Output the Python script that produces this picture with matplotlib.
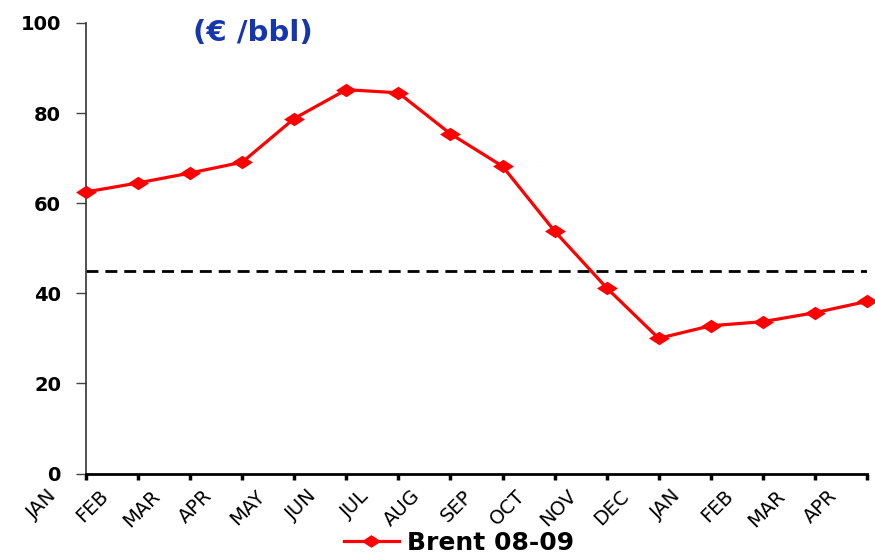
import matplotlib
matplotlib.use("Agg")
import matplotlib.pyplot as plt
import matplotlib.transforms as mtransforms
from matplotlib.lines import Line2D

months = ["JAN", "FEB", "MAR", "APR", "MAY", "JUN", "JUL", "AUG",
          "SEP", "OCT", "NOV", "DEC", "JAN", "FEB", "MAR", "APR"]
brent = [62.5, 64.5, 66.7, 69.1, 78.8, 85.2, 84.5, 75.4,
         68.2, 53.8, 41.2, 30.0, 32.8, 33.7, 35.7, 38.2]
reference_level = 45.0
yticks = [0, 20, 40, 60, 80, 100]
series_name = "Brent 08-09"
unit_title = "(€ /bbl)"

fig = plt.figure(figsize=(8.75, 5.55), dpi=100)
ax = fig.add_axes([86/875, 1 - 473.5/555, (867-86)/875, (473.5-23)/555])

diamond = [(-1, 0), (0, 0.65), (1, 0), (0, -0.65), (-1, 0)]
x = list(range(len(months)))
ax.plot(x, brent, color="#ff0000", lw=2.3, marker=diamond, markersize=15,
        markeredgewidth=0, markerfacecolor="#ff0000", zorder=3, clip_on=False)
ax.axhline(reference_level, color="black", lw=2.0, dashes=(4.3, 2.5), zorder=2)

ax.set_xlim(0, len(months) - 1)
ax.set_ylim(0, 100)
ax.set_yticks(yticks)
ax.set_yticklabels([str(v) for v in yticks], fontfamily="DejaVu Sans",
                   fontweight="bold", fontsize=14)
ax.set_xticks(x)
ax.set_xticklabels([])

# month labels, rotated, shifted left of their tick as in the reference
trans = mtransforms.blended_transform_factory(ax.transData, ax.transAxes)
shift = mtransforms.ScaledTranslation(-26/100, -13/100, fig.dpi_scale_trans)
for xi, m in zip(x, months):
    ax.text(xi, 0, m, transform=trans + shift, rotation=45, ha="right",
            va="top", fontfamily="DejaVu Sans", fontsize=14, clip_on=False)

for s in ["top", "right"]:
    ax.spines[s].set_visible(False)
ax.spines["left"].set_color("#333333")
ax.spines["left"].set_linewidth(1.2)
ax.spines["bottom"].set_color("black")
ax.spines["bottom"].set_linewidth(2.0)
ax.tick_params(axis="y", direction="out", length=7, width=1.0,
               color="#444444", pad=11)
ax.tick_params(axis="x", direction="out", length=4, width=2.5,
               color="black", pad=8)

fig.text(253/875, 1 - 33/555, unit_title, color="#1636ad", fontsize=21,
         fontweight="bold", fontfamily="DejaVu Sans",
         ha="center", va="center")

handle = Line2D([0], [0], color="#ff0000", lw=2.3, marker=diamond,
                markersize=14, markeredgewidth=0)
fig.legend([handle], [series_name], loc="center", bbox_to_anchor=(459/875, 1 - 543/555),
           frameon=False, handlelength=2.2, handletextpad=0.35,
           prop={"family": "DejaVu Sans", "weight": "bold", "size": 18},
           borderpad=0, borderaxespad=0)

fig.savefig("out.png", dpi=100)
